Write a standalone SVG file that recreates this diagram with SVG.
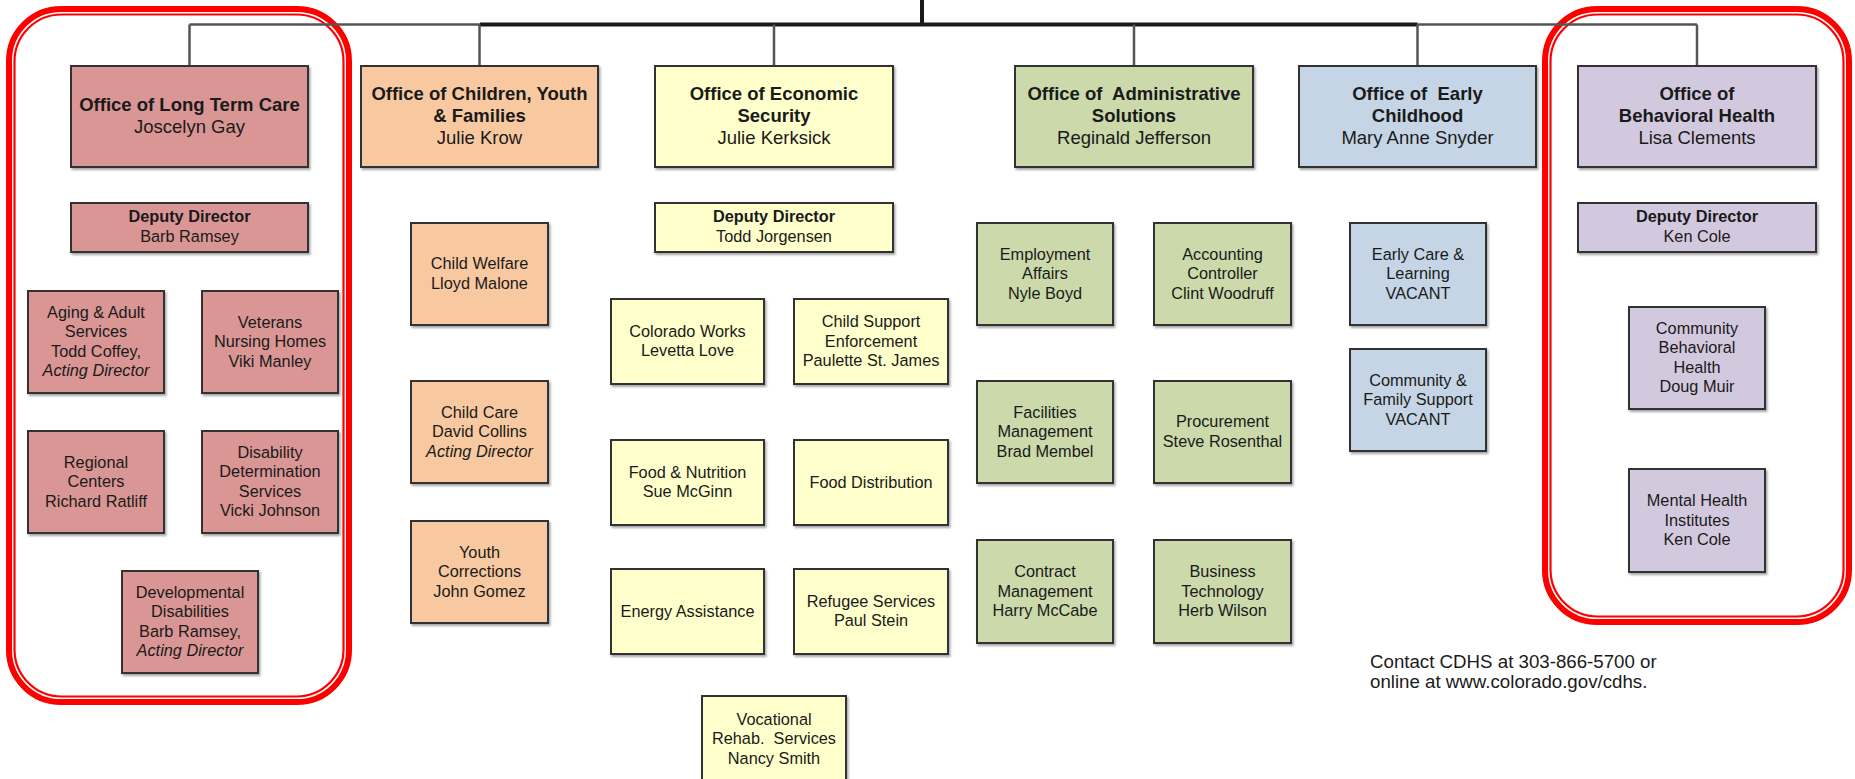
<svg xmlns="http://www.w3.org/2000/svg" width="1855" height="779" viewBox="0 0 1855 779">
<defs>
<filter id="sh" x="-10%" y="-10%" width="125%" height="125%">
<feDropShadow dx="1.5" dy="2" stdDeviation="1" flood-color="#000" flood-opacity="0.35"/>
</filter>
</defs>
<style>
.b{stroke:#333;stroke-width:2;filter:url(#sh)}
.ltc{fill:#D99694}.cyf{fill:#F8C9A0}.oes{fill:#FFFFCC}.oas{fill:#CBD9AB}.oec{fill:#C5D5E5}.obh{fill:#D3C9DF}
text{font-family:"Liberation Sans",Arial,sans-serif;fill:#1a1a1a;text-anchor:middle}
.t{font-size:18.5px}
.s{font-size:16.3px}
.bd{font-weight:bold}
.it{font-style:italic}
.thin{stroke:#555;stroke-width:2.5;fill:none}
.thick{stroke:#1a1a1a;stroke-width:4;fill:none}
.red1{fill:none;stroke:#ff0000;stroke-width:6}
.red2{fill:none;stroke:#ff0000;stroke-width:2.2}
</style>
<g id="frames">
<rect class="red1" x="9" y="9" width="340" height="693" rx="52"/>
<rect class="red2" x="14.5" y="14.5" width="329" height="682" rx="47"/>
<rect class="red1" x="1545" y="9" width="304" height="613" rx="52"/>
<rect class="red2" x="1550.5" y="14.5" width="293" height="602" rx="47"/>
</g>
<g id="connectors">
<line class="thick" x1="922" y1="0" x2="922" y2="24.5"/>
<line class="thick" x1="480" y1="24.5" x2="1417.5" y2="24.5"/>
<line class="thin" x1="189.5" y1="24.5" x2="480" y2="24.5"/>
<line class="thin" x1="1417.5" y1="24.5" x2="1697" y2="24.5"/>
<line class="thin" x1="189.5" y1="24.5" x2="189.5" y2="66"/>
<line class="thin" x1="479.5" y1="24.5" x2="479.5" y2="66"/>
<line class="thin" x1="774" y1="24.5" x2="774" y2="66"/>
<line class="thin" x1="1134" y1="24.5" x2="1134" y2="66"/>
<line class="thin" x1="1417.5" y1="24.5" x2="1417.5" y2="66"/>
<line class="thin" x1="1697" y1="24.5" x2="1697" y2="66"/>
</g>
<g id="ltc">
<rect class="b ltc" x="71" y="66" width="237" height="101"/>
<text class="t"><tspan class="bd" x="189.5" y="110.5">Office of Long Term Care</tspan><tspan x="189.5" y="132.5">Joscelyn Gay</tspan></text>
</g>
<g id="cyf">
<rect class="b cyf" x="361" y="66" width="237" height="101"/>
<text class="t"><tspan class="bd" x="479.5" y="99.5">Office of Children, Youth</tspan><tspan class="bd" x="479.5" y="121.5">&amp; Families</tspan><tspan x="479.5" y="143.5">Julie Krow</tspan></text>
</g>
<g id="oes">
<rect class="b oes" x="655" y="66" width="238" height="101"/>
<text class="t"><tspan class="bd" x="774" y="99.5">Office of Economic</tspan><tspan class="bd" x="774" y="121.5">Security</tspan><tspan x="774" y="143.5">Julie Kerksick</tspan></text>
</g>
<g id="oas">
<rect class="b oas" x="1015" y="66" width="238" height="101"/>
<text class="t"><tspan class="bd" x="1134" y="99.5">Office of&#160; Administrative</tspan><tspan class="bd" x="1134" y="121.5">Solutions</tspan><tspan x="1134" y="143.5">Reginald Jefferson</tspan></text>
</g>
<g id="oec">
<rect class="b oec" x="1299" y="66" width="237" height="101"/>
<text class="t"><tspan class="bd" x="1417.5" y="99.5">Office of&#160; Early</tspan><tspan class="bd" x="1417.5" y="121.5">Childhood</tspan><tspan x="1417.5" y="143.5">Mary Anne Snyder</tspan></text>
</g>
<g id="obh">
<rect class="b obh" x="1578" y="66" width="238" height="101"/>
<text class="t"><tspan class="bd" x="1697" y="99.5">Office of</tspan><tspan class="bd" x="1697" y="121.5">Behavioral Health</tspan><tspan x="1697" y="143.5">Lisa Clements</tspan></text>
</g>
<g id="ltc-deputy">
<rect class="b ltc" x="71" y="203" width="237" height="49"/>
<text class="s"><tspan class="bd" x="189.5" y="221.7">Deputy Director</tspan><tspan x="189.5" y="242.4">Barb Ramsey</tspan></text>
</g>
<g id="oes-deputy">
<rect class="b oes" x="655" y="203" width="238" height="49"/>
<text class="s"><tspan class="bd" x="774" y="221.7">Deputy Director</tspan><tspan x="774" y="242.4">Todd Jorgensen</tspan></text>
</g>
<g id="obh-deputy">
<rect class="b obh" x="1578" y="203" width="238" height="49"/>
<text class="s"><tspan class="bd" x="1697" y="221.7">Deputy Director</tspan><tspan x="1697" y="242.4">Ken Cole</tspan></text>
</g>
<g id="aging">
<rect class="b ltc" x="28" y="291" width="136" height="102"/>
<text class="s"><tspan x="96" y="317.75">Aging &amp; Adult</tspan><tspan x="96" y="337.25">Services</tspan><tspan x="96" y="356.75">Todd Coffey,</tspan><tspan class="it" x="96" y="376.25">Acting Director</tspan></text>
</g>
<g id="veterans">
<rect class="b ltc" x="202" y="291" width="136" height="102"/>
<text class="s"><tspan x="270" y="327.5">Veterans</tspan><tspan x="270" y="347">Nursing Homes</tspan><tspan x="270" y="366.5">Viki Manley</tspan></text>
</g>
<g id="regional">
<rect class="b ltc" x="28" y="431" width="136" height="102"/>
<text class="s"><tspan x="96" y="467.5">Regional</tspan><tspan x="96" y="487">Centers</tspan><tspan x="96" y="506.5">Richard Ratliff</tspan></text>
</g>
<g id="disability">
<rect class="b ltc" x="202" y="431" width="136" height="102"/>
<text class="s"><tspan x="270" y="457.75">Disability</tspan><tspan x="270" y="477.25">Determination</tspan><tspan x="270" y="496.75">Services</tspan><tspan x="270" y="516.25">Vicki Johnson</tspan></text>
</g>
<g id="developmental">
<rect class="b ltc" x="122" y="571" width="136" height="102"/>
<text class="s"><tspan x="190" y="597.75">Developmental</tspan><tspan x="190" y="617.25">Disabilities</tspan><tspan x="190" y="636.75">Barb Ramsey,</tspan><tspan class="it" x="190" y="656.25">Acting Director</tspan></text>
</g>
<g id="child-welfare">
<rect class="b cyf" x="411" y="223" width="137" height="102"/>
<text class="s"><tspan x="479.5" y="269.25">Child Welfare</tspan><tspan x="479.5" y="288.75">Lloyd Malone</tspan></text>
</g>
<g id="child-care">
<rect class="b cyf" x="411" y="381" width="137" height="102"/>
<text class="s"><tspan x="479.5" y="417.5">Child Care</tspan><tspan x="479.5" y="437">David Collins</tspan><tspan class="it" x="479.5" y="456.5">Acting Director</tspan></text>
</g>
<g id="youth-corrections">
<rect class="b cyf" x="411" y="521" width="137" height="102"/>
<text class="s"><tspan x="479.5" y="557.5">Youth</tspan><tspan x="479.5" y="577">Corrections</tspan><tspan x="479.5" y="596.5">John Gomez</tspan></text>
</g>
<g id="colorado-works">
<rect class="b oes" x="611" y="299" width="153" height="85"/>
<text class="s"><tspan x="687.5" y="336.75">Colorado Works</tspan><tspan x="687.5" y="356.25">Levetta Love</tspan></text>
</g>
<g id="child-support">
<rect class="b oes" x="794" y="299" width="154" height="85"/>
<text class="s"><tspan x="871" y="327">Child Support</tspan><tspan x="871" y="346.5">Enforcement</tspan><tspan x="871" y="366">Paulette St. James</tspan></text>
</g>
<g id="food-nutrition">
<rect class="b oes" x="611" y="440" width="153" height="85"/>
<text class="s"><tspan x="687.5" y="477.75">Food &amp; Nutrition</tspan><tspan x="687.5" y="497.25">Sue McGinn</tspan></text>
</g>
<g id="food-distribution">
<rect class="b oes" x="794" y="440" width="154" height="85"/>
<text class="s" x="871" y="487.5">Food Distribution</text>
</g>
<g id="energy-assistance">
<rect class="b oes" x="611" y="569" width="153" height="85"/>
<text class="s" x="687.5" y="616.5">Energy Assistance</text>
</g>
<g id="refugee-services">
<rect class="b oes" x="794" y="569" width="154" height="85"/>
<text class="s"><tspan x="871" y="606.75">Refugee Services</tspan><tspan x="871" y="626.25">Paul Stein</tspan></text>
</g>
<g id="vocational">
<rect class="b oes" x="702" y="696" width="144" height="86"/>
<text class="s"><tspan x="774" y="724.5">Vocational</tspan><tspan x="774" y="744">Rehab.&#160; Services</tspan><tspan x="774" y="763.5">Nancy Smith</tspan></text>
</g>
<g id="employment-affairs">
<rect class="b oas" x="977" y="223" width="136" height="102"/>
<text class="s"><tspan x="1045" y="259.5">Employment</tspan><tspan x="1045" y="279">Affairs</tspan><tspan x="1045" y="298.5">Nyle Boyd</tspan></text>
</g>
<g id="accounting">
<rect class="b oas" x="1154" y="223" width="137" height="102"/>
<text class="s"><tspan x="1222.5" y="259.5">Accounting</tspan><tspan x="1222.5" y="279">Controller</tspan><tspan x="1222.5" y="298.5">Clint Woodruff</tspan></text>
</g>
<g id="facilities">
<rect class="b oas" x="977" y="381" width="136" height="102"/>
<text class="s"><tspan x="1045" y="417.5">Facilities</tspan><tspan x="1045" y="437">Management</tspan><tspan x="1045" y="456.5">Brad Membel</tspan></text>
</g>
<g id="procurement">
<rect class="b oas" x="1154" y="381" width="137" height="102"/>
<text class="s"><tspan x="1222.5" y="427.25">Procurement</tspan><tspan x="1222.5" y="446.75">Steve Rosenthal</tspan></text>
</g>
<g id="contract">
<rect class="b oas" x="977" y="540" width="136" height="103"/>
<text class="s"><tspan x="1045" y="577">Contract</tspan><tspan x="1045" y="596.5">Management</tspan><tspan x="1045" y="616">Harry McCabe</tspan></text>
</g>
<g id="business-technology">
<rect class="b oas" x="1154" y="540" width="137" height="103"/>
<text class="s"><tspan x="1222.5" y="577">Business</tspan><tspan x="1222.5" y="596.5">Technology</tspan><tspan x="1222.5" y="616">Herb Wilson</tspan></text>
</g>
<g id="early-care">
<rect class="b oec" x="1350" y="223" width="136" height="102"/>
<text class="s"><tspan x="1418" y="259.5">Early Care &amp;</tspan><tspan x="1418" y="279">Learning</tspan><tspan x="1418" y="298.5">VACANT</tspan></text>
</g>
<g id="community-family">
<rect class="b oec" x="1350" y="349" width="136" height="102"/>
<text class="s"><tspan x="1418" y="385.5">Community &amp;</tspan><tspan x="1418" y="405">Family Support</tspan><tspan x="1418" y="424.5">VACANT</tspan></text>
</g>
<g id="community-behavioral">
<rect class="b obh" x="1629" y="307" width="136" height="102"/>
<text class="s"><tspan x="1697" y="333.75">Community</tspan><tspan x="1697" y="353.25">Behavioral</tspan><tspan x="1697" y="372.75">Health</tspan><tspan x="1697" y="392.25">Doug Muir</tspan></text>
</g>
<g id="mental-health">
<rect class="b obh" x="1629" y="469" width="136" height="103"/>
<text class="s"><tspan x="1697" y="506">Mental Health</tspan><tspan x="1697" y="525.5">Institutes</tspan><tspan x="1697" y="545">Ken Cole</tspan></text>
</g>
<g id="contact">
<text style="font-size:18.7px;text-anchor:start"><tspan x="1370" y="667.7">Contact CDHS at 303-866-5700 or</tspan><tspan x="1370" y="688.3">online at www.colorado.gov/cdhs.</tspan></text>
</g>
</svg>
